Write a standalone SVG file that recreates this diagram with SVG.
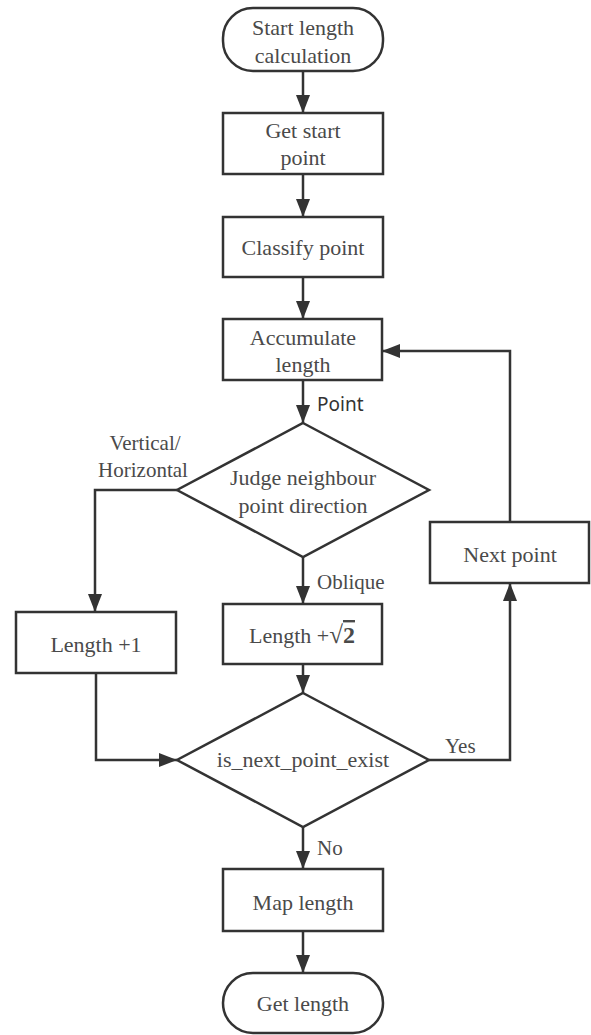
<svg xmlns="http://www.w3.org/2000/svg" width="591" height="1035" viewBox="0 0 591 1035">
<style>
.n{fill:#fff;stroke:#333;stroke-width:2.5}
.t{font-family:'Liberation Serif','Times New Roman',serif;font-size:22px;fill:#4a4a4a;text-anchor:middle}
.l{font-family:'Liberation Serif','Times New Roman',serif;font-size:21px;fill:#4a4a4a}
.s{font-family:'Noto Sans',sans-serif;font-size:19px;fill:#333}
.c{fill:none;stroke:#333;stroke-width:2.5;marker-end:url(#a)}
</style>
<defs>
<marker id="a" markerUnits="userSpaceOnUse" markerWidth="18" markerHeight="14" refX="18" refY="7" orient="auto">
<path d="M0,0 L18,7 L0,14 z" fill="#333"/>
</marker>
</defs>
<rect width="591" height="1035" fill="#fff"/>
<g id="connectors">
<path class="c" d="M303,71 V113"/>
<path class="c" d="M303,174 V217"/>
<path class="c" d="M303,277 V319"/>
<path class="c" d="M303,380 V423"/>
<path class="c" d="M177,490 H95 V612"/>
<path class="c" d="M303,557 V604"/>
<path class="c" d="M303,664 V693"/>
<path class="c" d="M96,673 V760 H177"/>
<path class="c" d="M429,760 H510 V583"/>
<path class="c" d="M510,522 V351 H382"/>
<path class="c" d="M303,827 V869"/>
<path class="c" d="M303,931 V973"/>
<text class="s" x="317" y="411">Point</text>
<text class="l" x="145" y="450" text-anchor="middle">Vertical/</text>
<text class="l" x="143" y="477" text-anchor="middle">Horizontal</text>
<text class="l" x="317" y="589">Oblique</text>
<text class="l" x="445" y="753">Yes</text>
<text class="l" x="317" y="855">No</text>
</g>
<g id="start">
<rect class="n" x="223" y="8" width="160" height="63" rx="30"/>
<text class="t" x="303" y="35">Start length</text>
<text class="t" x="303" y="63">calculation</text>
</g>
<g id="getstart">
<rect class="n" x="223" y="113" width="160" height="61"/>
<text class="t" x="303" y="138">Get start</text>
<text class="t" x="303" y="165">point</text>
</g>
<g id="classify">
<rect class="n" x="223" y="217" width="160" height="60"/>
<text class="t" x="303" y="255">Classify point</text>
</g>
<g id="accumulate">
<rect class="n" x="223" y="319" width="159" height="61"/>
<text class="t" x="303" y="345">Accumulate</text>
<text class="t" x="303" y="372">length</text>
</g>
<g id="judge">
<polygon class="n" points="303,423 429,490 303,557 177,490"/>
<text class="t" x="303" y="485">Judge neighbour</text>
<text class="t" x="303" y="513">point direction</text>
</g>
<g id="len1">
<rect class="n" x="16" y="612" width="160" height="61"/>
<text class="t" x="96" y="652">Length +1</text>
</g>
<g id="lensqrt2">
<rect class="n" x="223" y="604" width="159" height="60"/>
<text class="t" x="302" y="643">Length +<tspan font-size="25">√</tspan><tspan font-weight="bold" font-size="24" text-decoration="overline">2</tspan></text>
</g>
<g id="exist">
<polygon class="n" points="303,693 429,760 303,827 177,760"/>
<text class="t" x="303" y="767">is_next_point_exist</text>
</g>
<g id="next">
<rect class="n" x="430" y="522" width="159" height="61"/>
<text class="t" x="510" y="562">Next point</text>
</g>
<g id="map">
<rect class="n" x="223" y="869" width="160" height="62"/>
<text class="t" x="303" y="910">Map length</text>
</g>
<g id="end">
<rect class="n" x="223" y="973" width="160" height="60" rx="30"/>
<text class="t" x="303" y="1011">Get length</text>
</g>
</svg>
